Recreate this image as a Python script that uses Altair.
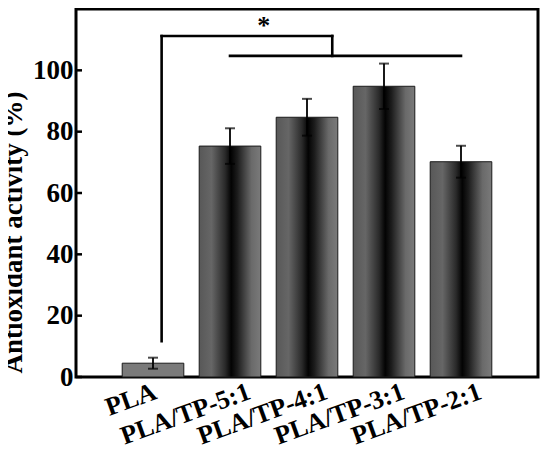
import altair as alt
import pandas as pd

categories = ["PLA", "PLA/TP-5:1", "PLA/TP-4:1", "PLA/TP-3:1", "PLA/TP-2:1"]
values = [4.5, 75.3, 84.7, 94.8, 70.2]
errors = [1.8, 5.8, 6.0, 7.4, 5.2]
y_ticks = [0, 20, 40, 60, 80, 100]
bracket_low = [11.7]
bracket_mid = [104.7]
bracket_top = [111.2]
star_level = [115.8]

df = pd.DataFrame({"cat": categories, "val": values, "err": errors})
df["lo"] = df["val"] - df["err"]
df["hi"] = df["val"] + df["err"]

FONT = "Liberation Serif"
xscale = alt.Scale(domain=categories, paddingInner=0.2, paddingOuter=0.6)
yscale = alt.Scale(domain=[0, 120], nice=False, zero=True)

x_axis = alt.Axis(
    title=None, labelAngle=-20, labelAlign="right", labelBaseline="top",
    labelFont=FONT, labelFontSize=26, labelFontWeight="bold", labelColor="black",
    ticks=False, tickSize=0, domain=False, grid=False, labelPadding=1,
    labelOffset={"condition": {"test": "datum.value === 'PLA'", "value": -2}, "value": 15},
)
y_axis = alt.Axis(
    values=y_ticks, title="Antioxidant activity (%)",
    titleFont=FONT, titleFontSize=27, titleFontWeight="bold", titleColor="black",
    titleX=-49, titleY=223, titleBaseline="bottom",
    labelFont=FONT, labelFontSize=27, labelFontWeight="bold", labelColor="black",
    ticks=False, tickSize=0, domain=False, grid=False, labelPadding=3,
)

def xenc(field="cat", bp=0.5):
    return alt.X(f"{field}:N", scale=xscale, bandPosition=bp, axis=x_axis, sort=categories)

def yenc(field):
    return alt.Y(f"{field}:Q", scale=yscale, axis=y_axis)

gradient = alt.Gradient(
    gradient="linear", x1=0, x2=1, y1=0, y2=0,
    stops=[
        alt.GradientStop(offset=0.0, color="#585858"),
        alt.GradientStop(offset=0.2, color="#666666"),
        alt.GradientStop(offset=0.42, color="#2a2a2a"),
        alt.GradientStop(offset=0.52, color="#030303"),
        alt.GradientStop(offset=0.62, color="#1c1c1c"),
        alt.GradientStop(offset=0.85, color="#6a6a6a"),
        alt.GradientStop(offset=1.0, color="#7a7a7a"),
    ],
)

base = alt.Chart(df)

bars_pla = base.transform_filter(alt.datum.cat == "PLA").mark_bar(
    fill="#7a7a7a", stroke="#1a1a1a", strokeWidth=1
).encode(x=xenc(), y=yenc("val"))
bars = base.transform_filter(alt.datum.cat != "PLA").mark_bar(
    fill=gradient, stroke="#1a1a1a", strokeWidth=1
).encode(x=xenc(), y=yenc("val"))
err_rule = base.mark_rule(color="black", strokeWidth=1.8).encode(
    x=xenc(), y=yenc("lo"), y2="hi:Q"
)
cap_hi = base.mark_tick(color="black", size=10, thickness=2).encode(x=xenc(), y=yenc("hi"))
cap_lo = base.mark_tick(color="black", size=10, thickness=2).encode(x=xenc(), y=yenc("lo"))

seg_df = pd.DataFrame({
    "a": [categories[0]], "b": [categories[2]], "c": [categories[1]], "d": [categories[4]],
    "low": bracket_low, "mid": bracket_mid, "top": bracket_top, "star": star_level,
})
seg = alt.Chart(seg_df)
line_kw = dict(color="black", strokeWidth=2.6, strokeCap="square")
left_v = seg.mark_rule(**line_kw).encode(x=xenc("a", 0.64), y=yenc("low"), y2="top:Q")
top_h = seg.mark_rule(**line_kw).encode(
    x=xenc("a", 0.64), x2=alt.X2("b:N", bandPosition=0.91), y=yenc("top")
)
right_v = seg.mark_rule(**line_kw).encode(x=xenc("b", 0.91), y=yenc("mid"), y2="top:Q")
mid_h = seg.mark_rule(**line_kw).encode(
    x=xenc("c", 0.5), x2=alt.X2("d:N", bandPosition=0.5), y=yenc("mid")
)
star = seg.mark_text(
    text="*", font=FONT, fontSize=26, fontWeight="bold", color="black",
    baseline="middle", dy=4, dx=3,
).encode(x=xenc("c", 1.0), y=yenc("star"))

ticks = alt.Chart(pd.DataFrame({"t": y_ticks})).mark_rule(
    color="black", strokeWidth=2.5
).encode(y=yenc("t"), x=alt.value(0), x2=alt.value(6))

chart = alt.layer(
    bars_pla, bars, err_rule, cap_hi, cap_lo, left_v, top_h, right_v, mid_h, star, ticks
).properties(
    width=462, height=368,
    padding={"left": 68, "top": 1, "right": 4, "bottom": 70},
    autosize=alt.AutoSizeParams(type="none"),
).configure_view(stroke="black", strokeWidth=3)

chart.save("out.html", embed_options={"renderer": "svg", "actions": False})
